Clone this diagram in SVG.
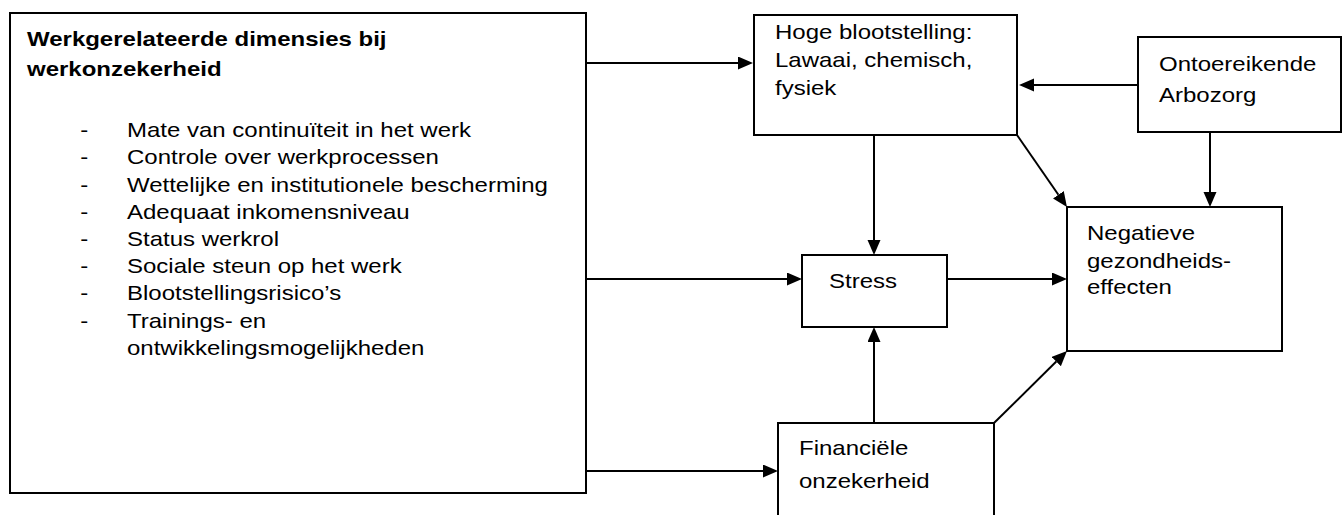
<svg xmlns="http://www.w3.org/2000/svg" width="1344" height="515" viewBox="0 0 1344 515">
<style>
.box{fill:#fff;stroke:#000;stroke-width:2}
.t{font-family:"Liberation Sans",Arial,sans-serif;font-size:20px;fill:#000}
.b{font-weight:bold}
.c{stroke:#000;stroke-width:2;fill:none;marker-end:url(#ah)}
</style>
<defs>
<marker id="ah" markerUnits="userSpaceOnUse" markerWidth="16" markerHeight="14" refX="0" refY="6.5" orient="auto">
<path d="M0,0 L15,6.5 L0,13 z" fill="#000"/>
</marker>
</defs>
<rect width="1344" height="515" fill="#fff"/>
<g id="werk">
<rect class="box" x="10" y="13" width="576" height="480"/>
<g class="t b" transform="translate(27,0) scale(1.2,1)">
<text x="0" y="46">Werkgerelateerde dimensies bij</text>
<text x="0" y="76">werkonzekerheid</text>
</g>
<g class="t" transform="translate(127,0) scale(1.2,1)">
<text x="-39" y="137">-</text><text x="0" y="137">Mate van continuïteit in het werk</text>
<text x="-39" y="164">-</text><text x="0" y="164">Controle over werkprocessen</text>
<text x="-39" y="192">-</text><text x="0" y="192">Wettelijke en institutionele bescherming</text>
<text x="-39" y="219">-</text><text x="0" y="219">Adequaat inkomensniveau</text>
<text x="-39" y="246">-</text><text x="0" y="246">Status werkrol</text>
<text x="-39" y="273">-</text><text x="0" y="273">Sociale steun op het werk</text>
<text x="-39" y="300">-</text><text x="0" y="300">Blootstellingsrisico’s</text>
<text x="-39" y="328">-</text><text x="0" y="328">Trainings- en</text>
<text x="0" y="355">ontwikkelingsmogelijkheden</text>
</g>
</g>
<g id="hoge">
<rect class="box" x="754" y="15" width="263" height="120"/>
<g class="t" transform="translate(775,0) scale(1.2,1)">
<text x="0" y="39">Hoge blootstelling:</text>
<text x="0" y="67">Lawaai, chemisch,</text>
<text x="0" y="95">fysiek</text>
</g>
</g>
<g id="arbo">
<rect class="box" x="1138" y="37" width="203" height="95"/>
<g class="t" transform="translate(1159,0) scale(1.2,1)">
<text x="0" y="71">Ontoereikende</text>
<text x="0" y="102">Arbozorg</text>
</g>
</g>
<g id="stress">
<rect class="box" x="802" y="255" width="145" height="72"/>
<g class="t" transform="translate(829,0) scale(1.2,1)">
<text x="0" y="288">Stress</text>
</g>
</g>
<g id="neg">
<rect class="box" x="1067" y="207" width="215" height="144"/>
<g class="t" transform="translate(1087,0) scale(1.2,1)">
<text x="0" y="240">Negatieve</text>
<text x="0" y="268">gezondheids-</text>
<text x="0" y="294">effecten</text>
</g>
</g>
<g id="fin">
<rect class="box" x="778" y="423" width="216" height="110"/>
<g class="t" transform="translate(799,0) scale(1.2,1)">
<text x="0" y="455">Financiële</text>
<text x="0" y="488">onzekerheid</text>
</g>
</g>
<g id="connectors">
<line class="c" x1="586" y1="63" x2="738" y2="63"/>
<line class="c" x1="586" y1="279" x2="787" y2="279"/>
<line class="c" x1="586" y1="471" x2="763" y2="471"/>
<line class="c" x1="1138" y1="85" x2="1034" y2="85"/>
<line class="c" x1="874" y1="135" x2="874" y2="240"/>
<line class="c" x1="874" y1="423" x2="874" y2="342"/>
<line class="c" x1="947" y1="279" x2="1052" y2="279"/>
<line class="c" x1="1017" y1="135" x2="1058.4" y2="194.7"/>
<line class="c" x1="1210" y1="132" x2="1210" y2="192"/>
<line class="c" x1="994" y1="423" x2="1056.3" y2="361.5"/>
</g>
</svg>
